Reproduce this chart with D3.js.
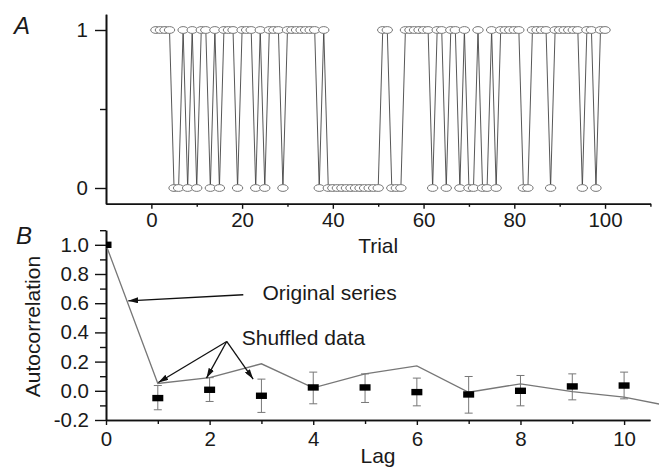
<!DOCTYPE html>
<html>
<head>
<meta charset="utf-8">
<script src="https://cdnjs.cloudflare.com/ajax/libs/d3/7.8.5/d3.min.js"></script>
<style>
  body { margin: 0; background: #fff; }
  svg text { font-family: "Liberation Sans", Arial, sans-serif; fill: #1a1a1a; }
</style>
</head>
<body>
<div id="chart"></div>
<script>
// ---- Panel A: choice on trials 1..100 (1 or 0)
var choices = [
  1,1,1,1,0,0,1,0,1,0,
  1,1,0,1,0,1,1,1,0,1,
  1,1,0,1,0,1,1,1,0,1,
  1,1,1,1,1,1,0,1,0,0,
  0,0,0,0,0,0,0,0,0,0,
  1,1,0,0,0,1,1,1,1,1,
  1,0,1,1,0,1,1,0,1,0,
  0,1,0,0,1,0,1,1,1,1,
  1,0,0,1,1,1,1,0,1,1,
  1,1,1,1,0,1,1,0,1,1
];
var trialTicks = [0, 20, 40, 60, 80, 100];
var trialMinorTicks = [10, 30, 50, 70, 90, 110];
var choiceTicks = [0, 1];

// ---- Panel B: autocorrelation
var originalLags = [0, 1, 2, 3, 4, 5, 6, 7, 8, 9, 10, 11];
var originalAc   = [1.0, 0.05, 0.09, 0.185, 0.02, 0.116, 0.171, -0.01, 0.048, -0.005, -0.043, -0.113];
var lags          = [0, 1, 2, 3, 4, 5, 6, 7, 8, 9, 10];
var shuffledMean  = [1.0, -0.05, 0.007, -0.034, 0.023, 0.023, -0.009, -0.025, 0.0, 0.03, 0.036];
var shuffledUpper = [1.0, 0.036, 0.09, 0.08, 0.128, 0.116, 0.087, 0.098, 0.105, 0.116, 0.128];
var shuffledLower = [1.0, -0.13, -0.073, -0.148, -0.089, -0.08, -0.103, -0.153, -0.103, -0.062, -0.055];
var lagTicks = [0, 2, 4, 6, 8, 10];
var lagMinorTicks = [1, 3, 5, 7, 9];
var acTicks = [-0.2, 0.0, 0.2, 0.4, 0.6, 0.8, 1.0];
var acMinorTicks = [-0.1, 0.1, 0.3, 0.5, 0.7, 0.9, 1.1];

var width = 659, height = 470;

var svg = d3.select("#chart").append("svg")
  .attr("width", width)
  .attr("height", height);

var defs = svg.append("defs");
defs.append("marker")
  .attr("id", "arrow")
  .attr("viewBox", "0 0 10 6")
  .attr("refX", 10).attr("refY", 3)
  .attr("markerWidth", 10).attr("markerHeight", 6)
  .attr("markerUnits", "userSpaceOnUse")
  .attr("orient", "auto")
  .append("path")
  .attr("d", "M0,0 L10,3 L0,6 Z")
  .attr("fill", "#111");

function styleAxis(g) {
  g.selectAll(".domain").attr("stroke", "#111").attr("stroke-width", 1.6);
  g.selectAll(".tick line").attr("stroke", "#111").attr("stroke-width", 1.4);
  g.selectAll(".tick text").attr("font-size", 20.5).attr("fill", "#1a1a1a")
    .attr("font-family", "'Liberation Sans', Arial, sans-serif");
}

// ================= Panel A =================
var xA = d3.scaleLinear().domain([-10, 110]).range([106, 650.4]);
var yA = d3.scaleLinear().domain([-0.1, 1.1]).range([203.8, 14.2]);

var gA = svg.append("g");

gA.append("g")
  .attr("transform", "translate(0," + yA(-0.1) + ")")
  .call(d3.axisBottom(xA).tickValues(trialMinorTicks).tickSize(3).tickSizeOuter(0).tickFormat(""))
  .call(styleAxis);
gA.append("g")
  .attr("transform", "translate(0," + yA(-0.1) + ")")
  .call(d3.axisBottom(xA).tickValues(trialTicks).tickSize(5).tickSizeOuter(0).tickPadding(4))
  .call(styleAxis);

gA.append("g")
  .attr("transform", "translate(" + xA(-10) + ",0)")
  .call(d3.axisLeft(yA).tickValues([0.5]).tickSize(6).tickSizeOuter(0).tickFormat(""))
  .call(styleAxis);
gA.append("g")
  .attr("transform", "translate(" + xA(-10) + ",0)")
  .call(d3.axisLeft(yA).tickValues(choiceTicks).tickSize(11).tickSizeOuter(0).tickPadding(7).tickFormat(d3.format("d")))
  .call(styleAxis);

var choiceLine = d3.line()
  .x(function(d, i) { return xA(i + 1); })
  .y(function(d) { return yA(d); });

gA.append("path")
  .datum(choices)
  .attr("d", choiceLine)
  .attr("fill", "none")
  .attr("stroke", "#444")
  .attr("stroke-width", 0.9);

gA.selectAll("ellipse.choice")
  .data(choices)
  .enter()
  .append("ellipse")
  .attr("class", "choice")
  .attr("cx", function(d, i) { return xA(i + 1); })
  .attr("cy", function(d) { return yA(d); })
  .attr("rx", 5.2)
  .attr("ry", 3.4)
  .attr("fill", "#fff")
  .attr("stroke", "#777")
  .attr("stroke-width", 1);

gA.append("text")
  .attr("x", xA(50)).attr("y", 253)
  .attr("text-anchor", "middle")
  .attr("font-size", 21)
  .text("Trial");

svg.append("text")
  .attr("x", 14).attr("y", 34)
  .attr("font-size", 24).attr("font-style", "italic")
  .text("A");

// ================= Panel B =================
var xB = d3.scaleLinear().domain([0, 10.5]).range([106, 650]);
var yB = d3.scaleLinear().domain([-0.2, 1.1]).range([420, 230.2]);

var gB = svg.append("g");

defs.append("clipPath").attr("id", "clipB")
  .append("rect")
  .attr("x", xB(0)).attr("y", yB(1.1) - 10)
  .attr("width", xB(10.5) - xB(0) + 10)
  .attr("height", yB(-0.2) - yB(1.1) + 10);

gB.append("g")
  .attr("transform", "translate(0," + yB(-0.2) + ")")
  .call(d3.axisBottom(xB).tickValues(lagMinorTicks).tickSize(4).tickSizeOuter(0).tickFormat(""))
  .call(styleAxis);
gB.append("g")
  .attr("transform", "translate(0," + yB(-0.2) + ")")
  .call(d3.axisBottom(xB).tickValues(lagTicks).tickSize(5).tickSizeOuter(0).tickPadding(6))
  .call(styleAxis);

gB.append("g")
  .attr("transform", "translate(" + xB(0) + ",0)")
  .call(d3.axisLeft(yB).tickValues(acMinorTicks).tickSize(6).tickSizeOuter(0).tickFormat(""))
  .call(styleAxis);
gB.append("g")
  .attr("transform", "translate(" + xB(0) + ",0)")
  .call(d3.axisLeft(yB).tickValues(acTicks).tickSize(11).tickSizeOuter(0).tickPadding(6)
    .tickFormat(function(d) { return d.toFixed(1); }))
  .call(styleAxis);

var plotB = gB.append("g").attr("clip-path", "url(#clipB)");

var acLine = d3.line()
  .x(function(d, i) { return xB(originalLags[i]); })
  .y(function(d) { return yB(d); });

plotB.append("path")
  .datum(originalAc)
  .attr("d", acLine)
  .attr("fill", "none")
  .attr("stroke", "#777")
  .attr("stroke-width", 1.3);

var bars = plotB.selectAll("g.err")
  .data(lags)
  .enter()
  .append("g")
  .attr("class", "err");

bars.append("line")
  .attr("x1", function(d) { return xB(d); })
  .attr("x2", function(d) { return xB(d); })
  .attr("y1", function(d, i) { return yB(shuffledUpper[i]); })
  .attr("y2", function(d, i) { return yB(shuffledLower[i]); })
  .attr("stroke", "#777").attr("stroke-width", 1);
bars.append("line")
  .attr("x1", function(d) { return xB(d) - 4; })
  .attr("x2", function(d) { return xB(d) + 4; })
  .attr("y1", function(d, i) { return yB(shuffledUpper[i]); })
  .attr("y2", function(d, i) { return yB(shuffledUpper[i]); })
  .attr("stroke", "#777").attr("stroke-width", 1);
bars.append("line")
  .attr("x1", function(d) { return xB(d) - 4; })
  .attr("x2", function(d) { return xB(d) + 4; })
  .attr("y1", function(d, i) { return yB(shuffledLower[i]); })
  .attr("y2", function(d, i) { return yB(shuffledLower[i]); })
  .attr("stroke", "#777").attr("stroke-width", 1);
bars.append("rect")
  .attr("x", function(d) { return xB(d) - 5.5; })
  .attr("y", function(d, i) { return yB(shuffledMean[i]) - 3.2; })
  .attr("width", 11)
  .attr("height", 6.4)
  .attr("fill", "#000");

// annotations
function arrow(x1, y1, x2, y2) {
  gB.append("line")
    .attr("x1", xB(x1)).attr("y1", yB(y1))
    .attr("x2", xB(x2)).attr("y2", yB(y2))
    .attr("stroke", "#111").attr("stroke-width", 1.3)
    .attr("marker-end", "url(#arrow)");
}
arrow(2.65, 0.658, 0.43, 0.616);
arrow(2.33, 0.338, 1.01, 0.057);
arrow(2.33, 0.338, 1.94, 0.087);
arrow(2.33, 0.338, 2.84, 0.08);

gB.append("text")
  .attr("x", xB(3.02)).attr("y", yB(0.619))
  .attr("font-size", 21)
  .text("Original series");
gB.append("text")
  .attr("x", xB(2.62)).attr("y", yB(0.315))
  .attr("font-size", 21)
  .text("Shuffled data");

gB.append("text")
  .attr("x", xB(5.25)).attr("y", 463)
  .attr("text-anchor", "middle")
  .attr("font-size", 21)
  .text("Lag");

gB.append("text")
  .attr("transform", "translate(40," + yB(0.44) + ") rotate(-90)")
  .attr("text-anchor", "middle")
  .attr("font-size", 21)
  .text("Autocorrelation");

svg.append("text")
  .attr("x", 16).attr("y", 244)
  .attr("font-size", 24).attr("font-style", "italic")
  .text("B");
</script>
</body>
</html>
